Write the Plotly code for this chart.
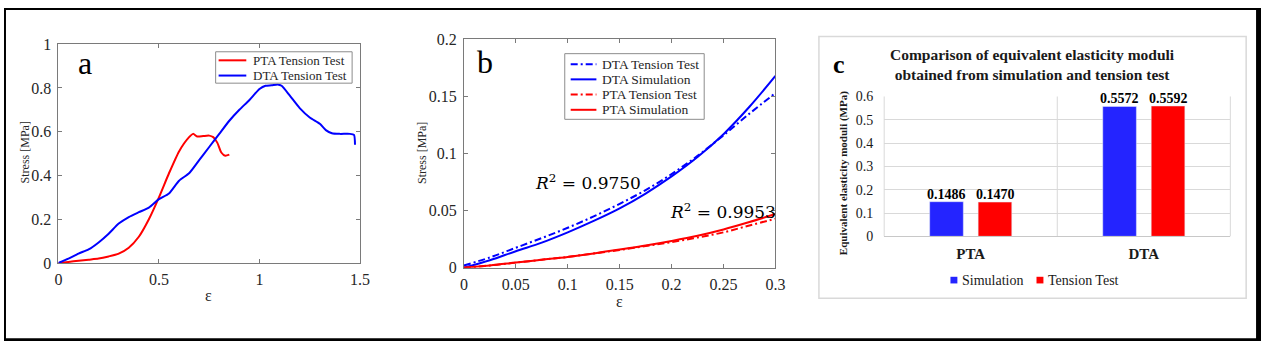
import plotly.graph_objects as go

W, H = 1271, 350

# ---- panel a: stress-strain tension tests ----
pta_test_strain = [0, 0.05, 0.1, 0.15, 0.2, 0.25, 0.3, 0.35, 0.4, 0.45, 0.5, 0.55, 0.6, 0.65,
                   0.67, 0.69, 0.72, 0.75, 0.77, 0.79, 0.81, 0.83, 0.85]
pta_test_stress = [0, 0.005, 0.01, 0.015, 0.02, 0.03, 0.043, 0.07, 0.12, 0.2, 0.30, 0.41, 0.51, 0.575,
                   0.59, 0.578, 0.58, 0.582, 0.575, 0.55, 0.505, 0.49, 0.495]
dta_test_strain = [0, 0.05, 0.1, 0.15, 0.2, 0.25, 0.3, 0.35, 0.4, 0.45, 0.5, 0.55, 0.6, 0.65, 0.7,
                   0.75, 0.8, 0.85, 0.9, 0.95, 1.0, 1.03, 1.06, 1.09, 1.11, 1.15, 1.2, 1.25, 1.3,
                   1.33, 1.36, 1.4, 1.45, 1.47, 1.475]
dta_test_stress = [0, 0.02, 0.043, 0.062, 0.094, 0.134, 0.18, 0.21, 0.232, 0.253, 0.292, 0.318, 0.376,
                   0.41, 0.47, 0.53, 0.59, 0.65, 0.70, 0.745, 0.795, 0.81, 0.812, 0.816, 0.81, 0.766,
                   0.708, 0.665, 0.636, 0.607, 0.593, 0.59, 0.59, 0.585, 0.54]

# ---- panel b: small-strain fit, simulation vs test ----
fit_strain = [0, 0.025, 0.05, 0.075, 0.1, 0.125, 0.15, 0.175, 0.2, 0.225, 0.25, 0.275, 0.3]
dta_test_fit = [0.002, 0.009, 0.0175, 0.026, 0.035, 0.045, 0.056, 0.068, 0.082, 0.098, 0.116, 0.135, 0.153]
dta_sim_fit = [0, 0.0065, 0.0145, 0.022, 0.031, 0.041, 0.052, 0.065, 0.080, 0.097, 0.117, 0.141, 0.168]
pta_test_fit = [0, 0.002, 0.0045, 0.007, 0.0095, 0.0125, 0.0155, 0.019, 0.0225, 0.0265, 0.031, 0.037, 0.043]
pta_sim_fit = [0, 0.002, 0.0045, 0.007, 0.0095, 0.0125, 0.016, 0.0195, 0.0235, 0.028, 0.0335, 0.040, 0.047]
r2_dta = "0.9750"
r2_pta = "0.9953"

# ---- panel c: equivalent elasticity moduli ----
categories = ["PTA", "DTA"]
moduli_simulation = [0.1486, 0.5572]
moduli_tension = [0.1470, 0.5592]

a_xticks = [0, 0.5, 1, 1.5]
a_xtext = ["0", "0.5", "1", "1.5"]
a_yticks = [0, 0.2, 0.4, 0.6, 0.8, 1]
a_ytext = ["0", "0.2", "0.4", "0.6", "0.8", "1"]
b_xticks = [0, 0.05, 0.1, 0.15, 0.2, 0.25, 0.3]
b_xtext = ["0", "0.05", "0.1", "0.15", "0.2", "0.25", "0.3"]
b_yticks = [0, 0.05, 0.1, 0.15, 0.2]
b_ytext = ["0", "0.05", "0.1", "0.15", "0.2"]
c_yticks = [0, 0.1, 0.2, 0.3, 0.4, 0.5, 0.6]
c_ytext = ["0", "0.1", "0.2", "0.3", "0.4", "0.5", "0.6"]

SERIF = "Liberation Serif, Times New Roman, serif"
BLUE = "#0000ff"
RED = "#ff0000"
BAR_BLUE = "#2424ff"
AX = "#7a7a7a"
TXT = "#262626"
DASHDOT = "7px,3px,2px,3px"


def px_x(p):
    return p / W


def px_y(p):
    return 1 - p / H


fig = go.Figure()

# panel a
panel_a = [
    go.Scatter(x=pta_test_strain, y=pta_test_stress, name="PTA Tension Test",
               line=dict(color=RED, width=2, shape="spline", smoothing=0.6, dash="solid")),
    go.Scatter(x=dta_test_strain, y=dta_test_stress, name="DTA Tension Test",
               line=dict(color=BLUE, width=2, shape="spline", smoothing=0.6, dash="solid")),
]
# panel b
panel_b = [
    go.Scatter(x=fit_strain, y=dta_test_fit, name="DTA Tension Test",
               line=dict(color=BLUE, width=2, dash=DASHDOT, shape="spline")),
    go.Scatter(x=fit_strain, y=dta_sim_fit, name="DTA Simulation",
               line=dict(color=BLUE, width=2, dash="solid", shape="spline")),
    go.Scatter(x=fit_strain, y=pta_test_fit, name="PTA Tension Test",
               line=dict(color=RED, width=2, dash=DASHDOT, shape="spline")),
    go.Scatter(x=fit_strain, y=pta_sim_fit, name="PTA Simulation",
               line=dict(color=RED, width=2, dash="solid", shape="spline")),
]
for tr in panel_a:
    tr.update(mode="lines", xaxis="x", yaxis="y", showlegend=False)
    fig.add_trace(tr)
for tr in panel_b:
    tr.update(mode="lines", xaxis="x2", yaxis="y2", showlegend=False)
    fig.add_trace(tr)

# panel c
panel_c = [
    go.Bar(x=categories, y=moduli_simulation, marker_color=BAR_BLUE, name="Simulation"),
    go.Bar(x=categories, y=moduli_tension, marker_color=RED, name="Tension Test"),
]
for tr in panel_c:
    tr.update(xaxis="x3", yaxis="y3", showlegend=False)
    fig.add_trace(tr)

tickfont = dict(family=SERIF, size=16, color=TXT)
matlab_axis = dict(showline=True, linecolor=AX, linewidth=1, mirror="ticks", ticks="inside",
                   ticklen=4, tickcolor=AX, showgrid=False, zeroline=False, tickfont=tickfont)

BARGAP, BARGROUPGAP = 0.44, 0.306
C_LEFT, C_RIGHT = 890, 1240

fig.update_layout(
    width=W, height=H,
    margin=dict(l=0, r=0, t=0, b=0),
    paper_bgcolor="white", plot_bgcolor="white",
    font=dict(family=SERIF, color=TXT),
    barmode="group", bargap=BARGAP, bargroupgap=BARGROUPGAP,
    showlegend=False,
    xaxis=dict(domain=[px_x(55), px_x(360)], range=[0, 1.5], tickvals=a_xticks, ticktext=a_xtext,
               anchor="y", ticklabelstandoff=2, **matlab_axis),
    yaxis=dict(domain=[px_y(268), px_y(38)], range=[0, 1], tickvals=a_yticks, ticktext=a_ytext,
               anchor="x", ticklabelstandoff=3, **matlab_axis),
    xaxis2=dict(domain=[px_x(465), px_x(780)], range=[0, 0.3], tickvals=b_xticks, ticktext=b_xtext,
                anchor="y2", ticklabelstandoff=2, **matlab_axis),
    yaxis2=dict(domain=[px_y(273), px_y(33)], range=[0, 0.2], tickvals=b_yticks, ticktext=b_ytext,
                anchor="x2", ticklabelstandoff=3, **matlab_axis),
    xaxis3=dict(domain=[px_x(C_LEFT), px_x(C_RIGHT)], anchor="y3", showline=True, linecolor="#c8c8c8",
                tickvals=categories, ticktext=["<b>%s</b>" % c for c in categories],
                tickfont=dict(family=SERIF, size=15, color="#1a1a1a"), ticks="", showgrid=False,
                ticklabelstandoff=4),
    yaxis3=dict(domain=[px_y(240), px_y(93)], range=[0, 0.6], anchor="x3", tickvals=c_yticks,
                ticktext=c_ytext, showgrid=True, gridcolor="#d9d9d9", gridwidth=1, zeroline=False,
                showline=False, ticks="", tickfont=dict(family=SERIF, size=14, color="#1a1a1a"),
                ticklabelstandoff=10),
)

ann = []
shapes = []


def paper_text(text, x, y, size, color=TXT, anchor="center", angle=0):
    ann.append(dict(text=text, x=px_x(x), y=px_y(y), xref="paper", yref="paper", showarrow=False,
                    xanchor=anchor, yanchor="middle", textangle=angle,
                    font=dict(family=SERIF, size=size, color=color)))


# panel letters
paper_text("a", 82, 58, 32, "#000")
paper_text("b", 486, 57, 32, "#000")
paper_text("<b>c</b>", 844, 59, 26, "#000")
# axis titles
paper_text("Stress [MPa]", 21, 152, 12, angle=-90)
paper_text("ε", 207, 302, 16)
paper_text("Stress [MPa]", 422, 152, 12, angle=-90)
paper_text("ε", 622, 308, 16)
paper_text("<b>Equivalent elasticity moduli (MPa)</b>", 849, 174, 11, "#1a1a1a", angle=-90)
paper_text("<b>Comparison of equivalent elasticity moduli<br>obtained from simulation and tension test</b>",
           1040, 59, 15.5, "#1a1a1a")

# R^2 labels placed in data coordinates of panel b
for txt, xv, yv in [(r2_dta, 0.0667, 0.0747), (r2_pta, 0.197, 0.0496)]:
    ann.append(dict(text="<i>R</i><sup>2</sup> = " + txt, x=xv, y=yv, xref="x2", yref="y2",
                    xanchor="left", yanchor="middle", showarrow=False,
                    font=dict(family="DejaVu Serif", size=17, color="#000")))


# boxed MATLAB-style legends built from the traces they describe
def boxed_legend(traces, box, row_y, line_x, text_x, size):
    x0, y0, x1, y1 = box
    shapes.append(dict(type="rect", xref="paper", yref="paper", x0=px_x(x0), x1=px_x(x1),
                       y0=px_y(y1), y1=px_y(y0), fillcolor="white",
                       line=dict(color="#8c8c8c", width=1)))
    for tr, ry in zip(traces, row_y):
        shapes.append(dict(type="line", xref="paper", yref="paper", x0=px_x(line_x[0]),
                           x1=px_x(line_x[1]), y0=px_y(ry), y1=px_y(ry),
                           line=dict(color=tr.line.color, width=2, dash=tr.line.dash)))
        paper_text(tr.name, text_x, ry, size, anchor="left")


boxed_legend(panel_a, (214, 46, 352, 79), [55, 71], (217, 245), 250, 13)
boxed_legend(panel_b, (567, 48, 708, 117), [59, 75, 91, 107], (573, 599), 603, 13.5)

# bar value labels sitting on the bar tops (bar centres offset from the category centre)
cat_px = (C_RIGHT - C_LEFT) / len(categories)
slot = cat_px * (1 - BARGAP) / len(panel_c)
for k, tr in enumerate(panel_c):
    offset = (k - (len(panel_c) - 1) / 2) * slot
    for cat, val in zip(tr.x, tr.y):
        ann.append(dict(text="<b>%.4f</b>" % val, x=cat, y=val, xref="x3", yref="y3", xshift=offset,
                        yshift=-2, xanchor="center", yanchor="bottom", showarrow=False,
                        font=dict(family=SERIF, size=14, color="#000")))

# bar legend under panel c
for tr, sq_x in zip(panel_c, (957, 1044)):
    shapes.append(dict(type="rect", xref="paper", yref="paper", x0=px_x(sq_x), x1=px_x(sq_x + 7),
                       y0=px_y(289.5), y1=px_y(282.5), fillcolor=tr.marker.color, line=dict(width=0)))
    paper_text(tr.name, sq_x + 10, 286, 14, "#1a1a1a", anchor="left")

fig.update_layout(annotations=ann)

# panel c frame and category separators
shapes.append(dict(type="rect", xref="paper", yref="paper", x0=px_x(824), x1=px_x(1256),
                   y0=px_y(305), y1=px_y(30), line=dict(color="#d9d9d9", width=1.5), layer="below"))
for xv in (0, 0.5, 1):
    shapes.append(dict(type="line", xref="x3 domain", yref="y3 domain", x0=xv, x1=xv, y0=0, y1=1,
                       line=dict(color="#d9d9d9", width=1), layer="below"))
# outer black frame
for x0, x1, y0, y1 in [(0, 2, 0, H), (1266, W, 0, H), (0, W, 0, 2), (0, W, 347, H)]:
    shapes.append(dict(type="rect", xref="paper", yref="paper", x0=px_x(x0), x1=px_x(x1),
                       y0=px_y(y1), y1=px_y(y0), fillcolor="#000", line=dict(width=0)))
fig.update_layout(shapes=shapes)

fig.write_html("out.html")
